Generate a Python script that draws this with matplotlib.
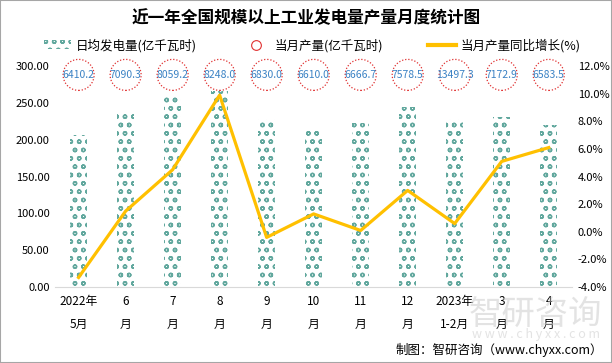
import matplotlib
matplotlib.use("Agg")
import matplotlib.pyplot as plt
import matplotlib.transforms as mtransforms
from matplotlib.patches import Patch, Rectangle, Circle
from matplotlib.lines import Line2D

plt.rcParams['font.family'] = ['Noto Sans CJK SC', 'DejaVu Sans']
plt.rcParams['hatch.linewidth'] = 1.0

# 数据
months = ['2022年\n5月', '6\n月', '7\n月', '8\n月', '9\n月', '10\n月', '11\n月',
          '12\n月', '2023年\n1-2月', '3\n月', '4\n月']
daily_avg = [206.78, 236.34, 259.97, 266.06, 227.67, 213.23, 222.22, 244.47, 228.77, 231.38, 219.45]
month_output = ['6410.2', '7090.3', '8059.2', '8248.0', '6830.0', '6610.0', '6666.7',
                '7578.5', '13497.3', '7172.9', '6583.5']
yoy_growth = [-3.3, 1.5, 4.5, 9.9, -0.4, 1.3, 0.1, 3.0, 0.6, 5.1, 6.1]

bar_color = '#62a89e'
line_color = '#FFC000'

fig = plt.figure(figsize=(6.12, 3.63), dpi=100)
ax = fig.add_axes([0.09, 0.209, 0.845, 0.609])
x = list(range(len(months)))

ax.bar(x, daily_avg, width=0.35, facecolor='white', edgecolor=bar_color,
       hatch='oo', linewidth=0, zorder=2)
ax.set_ylim(0, 300)
ax.set_xlim(-0.5, 10.5)
ax.set_yticks(range(0, 301, 50))
ax.set_yticklabels([f'{v:.2f}' for v in range(0, 301, 50)], fontsize=8)
ax.set_xticks(x)
ax.set_xticklabels(months, fontsize=8.5, linespacing=1.9)
ax.tick_params(axis='both', length=0, pad=6)
ax.tick_params(axis='y', pad=4)
for s in ['top', 'right', 'left']:
    ax.spines[s].set_visible(False)
ax.spines['bottom'].set_color('#d9d9d9')

# 当月产量圆圈标签（虚线圆）
for i, lab in enumerate(month_output):
    ax.text(i, 288, lab, ha='center', va='center', fontsize=7.5, color='#3b82c4', zorder=5)
    tr = fig.dpi_scale_trans + mtransforms.ScaledTranslation(i, 288, ax.transData)
    ax.add_patch(Circle((0, 0), 0.155, transform=tr, facecolor='none', edgecolor='#e03030',
                        linestyle=(0, (1, 1.5)), linewidth=0.9, clip_on=False, zorder=4))

ax2 = ax.twinx()
ax2.plot(x, yoy_growth, color=line_color, linewidth=2.3, zorder=4)
ax2.set_ylim(-4, 12)
ax2.set_yticks(range(-4, 13, 2))
ax2.set_yticklabels([f'{v:.1f}%' for v in range(-4, 13, 2)], fontsize=8)
ax2.tick_params(axis='y', length=0, pad=4)
for s in ['top', 'right', 'left', 'bottom']:
    ax2.spines[s].set_visible(False)

# 图例
handles = [Patch(facecolor='white', edgecolor=bar_color, hatch='oo', linewidth=0),
           Line2D([], [], marker='o', markersize=7, markerfacecolor='none',
                  markeredgecolor='#e03030', markeredgewidth=0.8, linestyle='none'),
           Line2D([], [], color=line_color, linewidth=3)]
labels = ['日均发电量(亿千瓦时)', '当月产量(亿千瓦时)', '当月产量同比增长(%)']
fig.legend(handles, labels, loc='center', bbox_to_anchor=(0.51, 0.875), ncol=3,
           frameon=False, fontsize=9, columnspacing=3.6, handlelength=2.2, handletextpad=0.4)

fig.text(0.5, 0.95, '近一年全国规模以上工业发电量产量月度统计图', ha='center', va='center',
         fontsize=12, fontweight='bold')
fig.text(0.985, 0.035, '制图：智研咨询（www.chyxx.com）', ha='right', va='center', fontsize=9)

# 水印
fig.text(0.875, 0.135, '智研咨询', ha='center', va='center', fontsize=24, color='#c8c8c8', alpha=0.5)
fig.text(0.875, 0.078, 'w w w . c h y x x . c o m', ha='center', va='center', fontsize=9,
         color='#c8c8c8', alpha=0.5)

fig.patches.append(Rectangle((0, 0), 1, 1, transform=fig.transFigure, fill=False,
                             edgecolor='#a6a6a6', linewidth=1.5))

fig.savefig('out.png', dpi=100)
